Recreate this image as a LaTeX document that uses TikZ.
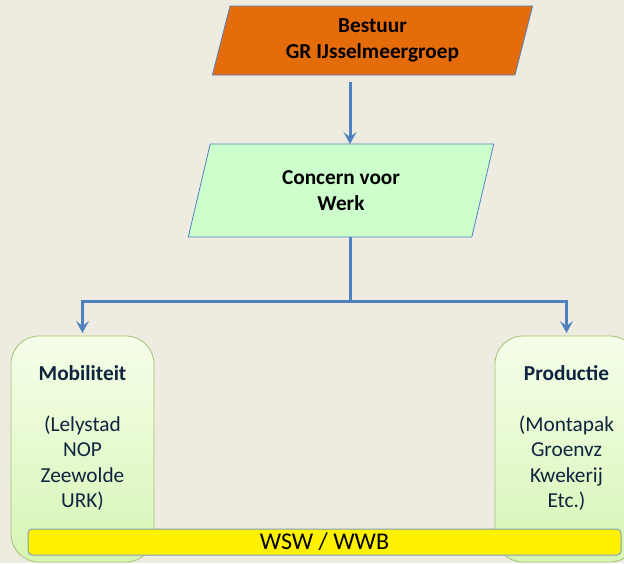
\documentclass[tikz,border=0pt]{standalone}
\usepackage{fontspec}
\setmainfont{Carlito}
\usetikzlibrary{positioning,arrows.meta,shapes.geometric}

\definecolor{bgbeige}{HTML}{EEECE1}
\definecolor{lineblue}{HTML}{4F81BD}
\definecolor{boardorange}{HTML}{E46C0A}
\definecolor{concerngreen}{HTML}{CCFFCC}
\definecolor{boxline}{HTML}{A4C272}
\definecolor{boxtop}{HTML}{F5FEE9}
\definecolor{boxbottom}{HTML}{D7F5B5}
\definecolor{navytext}{HTML}{0F243E}
\definecolor{barline}{HTML}{7F9FC0}

\begin{document}
\begin{tikzpicture}[
    x=1pt, y=-1pt,
    >={Stealth[length=12pt,width=13pt,inset=5pt]},
    lean/.style={
        draw=lineblue,
        line width=0.8pt,
        trapezium,
        trapezium left angle=76,
        trapezium right angle=104,
        trapezium stretches=true,
        align=center,
        inner sep=0pt,
        outer sep=0pt,
        font=\bfseries\fontsize{21.3}{25.5}\selectfont
    },
    unitbox/.style={
        draw=boxline,
        line width=0.8pt,
        rounded corners=28pt,
        top color=boxtop,
        bottom color=boxbottom,
        minimum width=143pt,
        minimum height=226pt,
        inner sep=0pt,
        outer sep=0pt
    },
    unittext/.style={
        align=center,
        inner sep=0pt,
        text=navytext,
        font=\fontsize{21.3}{25.5}\selectfont
    },
    bar/.style={
        draw=barline,
        line width=1pt,
        fill=yellow,
        rounded corners=4pt,
        minimum width=593pt,
        minimum height=26pt,
        inner sep=0pt,
        font=\fontsize{24}{26}\selectfont
    },
    flow/.style={->, draw=lineblue, line width=3pt}
]
    % Achtergrond
    \fill[bgbeige] (0,0) rectangle (624,563);
    \useasboundingbox (0,0) rectangle (624,563);

    % Bestuur en concern
    \node[lean, fill=boardorange, minimum width=321pt, minimum height=69pt] (bestuur) at (372.5,40.5) {Bestuur\\GR IJsselmeergroep};
    \node[lean, fill=concerngreen, minimum width=306pt, minimum height=93pt, below=69pt of bestuur, xshift=-31.5pt] (concern) {Concern voor\\Werk};
    \coordinate (split) at (350,301);

    % Onderdelen
    \node[unitbox] (mobiliteit) at (82.5,449) {};
    \node[unitbox, right=341pt of mobiliteit] (productie) {};
    \node[unittext, below=29pt of mobiliteit.north] (mobtext) {\textbf{Mobiliteit}\\[25.5pt](Lelystad\\NOP\\Zeewolde\\URK)};
    \node[unittext, below=29pt of productie.north] (prodtext) {\textbf{Productie}\\[25.5pt](Montapak\\Groenvz\\Kwekerij\\Etc.)};

    % Balk onderaan
    \node[bar] (wsw) at (324.5,542) {WSW / WWB};

    % Pijlen
    \draw[flow, shorten <=7pt] (bestuur.south -| split) -- (concern.north -| split);
    \draw[flow, shorten >=3pt] (concern.south -| split) -- (split) -| (mobiliteit.north);
    \draw[flow, shorten >=3pt] (split) -| (productie.north);
\end{tikzpicture}
\end{document}
